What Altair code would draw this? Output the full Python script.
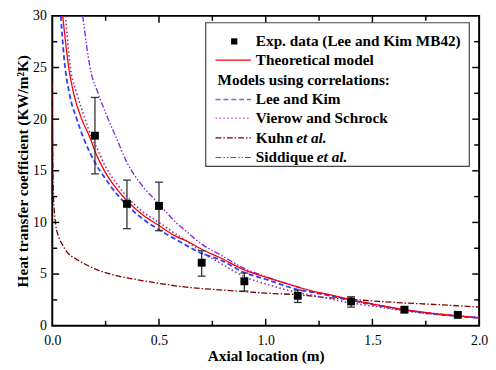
import altair as alt
import pandas as pd

# ---------------- data ----------------
exp_x = [0.2, 0.35, 0.5, 0.7, 0.9, 1.15, 1.4, 1.65, 1.9]
exp_y = [18.4, 11.8, 11.6, 6.1, 4.3, 2.9, 2.35, 1.55, 1.05]
exp_lo = [14.7, 9.4, 9.2, 4.8, 3.35, 2.25, 1.8, 1.3, 0.85]
exp_hi = [22.1, 14.1, 13.9, 7.25, 5.1, 3.45, 2.8, 1.8, 1.25]

theo_x = [0.049, 0.077, 0.1, 0.138, 0.177, 0.2, 0.25, 0.3, 0.35, 0.42, 0.5, 0.584, 0.63, 0.7, 0.784, 0.9, 1.0, 1.15, 1.23, 1.3, 1.4, 1.5, 1.65, 1.8, 1.9, 2.0]
theo_y = [30, 25, 22.5, 20, 18.2, 16.9, 14.8, 13.3, 12.1, 10.8, 9.7, 8.6, 8.2, 7.4, 6.6, 5.4, 4.7, 3.75, 3.3, 3.0, 2.5, 2.1, 1.55, 1.15, 0.95, 0.75]

lee_x = [0.04, 0.055, 0.08, 0.115, 0.146, 0.2, 0.25, 0.3, 0.35, 0.42, 0.5, 0.584, 0.7, 0.784, 0.9, 1.0, 1.15, 1.23, 1.3, 1.4, 1.5, 1.65, 1.8, 1.9, 2.0]
lee_y = [30, 26, 22.5, 20, 18.2, 15.8, 14.2, 12.8, 11.7, 10.4, 9.3, 8.3, 7.0, 6.4, 5.15, 4.5, 3.5, 3.2, 2.9, 2.45, 2.05, 1.5, 1.1, 0.92, 0.75]

vs_x = [0.062, 0.085, 0.115, 0.154, 0.185, 0.2, 0.25, 0.3, 0.35, 0.42, 0.5, 0.584, 0.63, 0.7, 0.784, 0.9, 1.0, 1.15, 1.23, 1.3, 1.4, 1.5, 1.65, 1.8, 1.9, 2.0]
vs_y = [30, 25, 22.5, 20, 18.2, 17.6, 15.4, 13.8, 12.5, 11.1, 10.0, 8.8, 8.2, 7.1, 6.1, 4.75, 4.05, 3.2, 2.9, 2.6, 2.2, 1.9, 1.45, 1.1, 0.95, 0.8]

kuhn_x = [0.0, 0.002, 0.005, 0.01, 0.016, 0.03, 0.046, 0.07, 0.108, 0.15, 0.2, 0.3, 0.4, 0.5, 0.6, 0.7, 0.8, 0.9, 1.0, 1.15, 1.3, 1.4, 1.5, 1.65, 1.8, 2.0]
kuhn_y = [23.5, 17, 13, 11, 9.8, 8.6, 7.9, 7.1, 6.5, 6.0, 5.5, 4.85, 4.45, 4.1, 3.8, 3.6, 3.45, 3.3, 3.15, 3.0, 2.7, 2.55, 2.4, 2.2, 2.05, 1.8]

sid_x = [0.143, 0.177, 0.215, 0.262, 0.3, 0.35, 0.42, 0.5, 0.584, 0.63, 0.7, 0.784, 0.9, 1.0, 1.15, 1.23, 1.3, 1.4, 1.5, 1.65, 1.8, 1.9, 2.0]
sid_y = [30, 25, 22.5, 20, 18.2, 15.8, 13.6, 11.8, 9.9, 9.1, 7.9, 6.9, 5.55, 4.75, 3.75, 3.25, 2.95, 2.5, 2.1, 1.55, 1.15, 0.95, 0.78]

x_major = [0.5, 1.0, 1.5]
x_minor = [0.25, 0.75, 1.25, 1.75]
y_major = [5, 10, 15, 20, 25]
y_minor = [2.5, 7.5, 12.5, 17.5, 22.5, 27.5]

FONT = "Liberation Serif"
W, H = 434, 315

xs = alt.Scale(domain=[0, 2], nice=False, zero=False)
ys = alt.Scale(domain=[0, 30], nice=False)

exp_df = pd.DataFrame({"x": exp_x, "y": exp_y, "lo": exp_lo, "hi": exp_hi})

def curve(xv, yv, color, dash, width=1.3):
    df = pd.DataFrame({"x": xv, "y": yv})
    kw = dict(color=color, strokeWidth=width, clip=True, interpolate="monotone")
    if dash:
        kw["strokeDash"] = dash
    return alt.Chart(df).mark_line(**kw).encode(
        x=alt.X("x:Q", scale=xs), y=alt.Y("y:Q", scale=ys)
    )

base_axes = alt.Chart(exp_df).mark_point(opacity=0).encode(
    x=alt.X("x:Q", scale=xs, title="Axial location (m)",
            axis=alt.Axis(values=[0, 0.5, 1.0, 1.5, 2.0], format=".1f", ticks=False, tickSize=0,
                          domain=False, grid=False, labelFlush=False, labelFont=FONT, labelFontSize=14,
                          labelColor="black", labelPadding=8, titleFont=FONT, titleFontSize=15.5,
                          titleFontWeight="bold", titleColor="black", titlePadding=1)),
    y=alt.Y("y:Q", scale=ys, title="Heat transfer coefficient (KW/m²K)",
            axis=alt.Axis(values=[0, 5, 10, 15, 20, 25, 30], ticks=False, tickSize=0,
                          domain=False, grid=False, labelFlush=False, labelFont=FONT, labelFontSize=14,
                          labelColor="black", labelPadding=6, titleFont=FONT, titleFontSize=15.5,
                          titleFontWeight="bold", titleColor="black", titlePadding=2)),
)

red = curve(theo_x, theo_y, "#ff0000", None, 1.3)
lee = curve(lee_x, lee_y, "#2a3cff", [5, 3], 1.8)
vs = curve(vs_x, vs_y, "#8c2a99", [1.5, 2.5], 1.6)
kuhn = curve(kuhn_x, kuhn_y, "#7a0000", [6, 2, 1.5, 2], 1.3)
sid = curve(sid_x, sid_y, "#8a2be2", [6, 2, 1.5, 2, 1.5, 2], 1.4)

ebar = alt.Chart(exp_df).mark_rule(color="#333333", strokeWidth=1.3).encode(
    x=alt.X("x:Q", scale=xs), y=alt.Y("lo:Q", scale=ys), y2="hi:Q")
cap_lo = alt.Chart(exp_df).mark_rule(color="#333333", strokeWidth=1.3, xOffset=-4, x2Offset=4).encode(
    x=alt.X("x:Q", scale=xs), x2="x:Q", y=alt.Y("lo:Q", scale=ys))
cap_hi = alt.Chart(exp_df).mark_rule(color="#333333", strokeWidth=1.3, xOffset=-4, x2Offset=4).encode(
    x=alt.X("x:Q", scale=xs), x2="x:Q", y=alt.Y("hi:Q", scale=ys))
pts = alt.Chart(exp_df).mark_square(color="black", size=64, opacity=1).encode(
    x=alt.X("x:Q", scale=xs), y=alt.Y("y:Q", scale=ys))

# ticks (inward, on all four sides)
def xticks(vals, length):
    df = pd.DataFrame({"v": vals})
    b = alt.Chart(df).mark_rule(color="black", strokeWidth=1.5).encode(
        x=alt.X("v:Q", scale=xs), y=alt.value(H), y2=alt.value(H - length))
    t = alt.Chart(df).mark_rule(color="black", strokeWidth=1.5).encode(
        x=alt.X("v:Q", scale=xs), y=alt.value(0), y2=alt.value(length))
    return b + t

def yticks(vals, length):
    df = pd.DataFrame({"v": vals})
    l = alt.Chart(df).mark_rule(color="black", strokeWidth=1.5).encode(
        y=alt.Y("v:Q", scale=ys), x=alt.value(0), x2=alt.value(length))
    r = alt.Chart(df).mark_rule(color="black", strokeWidth=1.5).encode(
        y=alt.Y("v:Q", scale=ys), x=alt.value(W), x2=alt.value(W - length))
    return l + r

ticks = xticks(x_major, 7) + xticks(x_minor, 5) + yticks(y_major, 7) + yticks(y_minor, 5)

# ---------------- manual legend ----------------
one = alt.Data(values=[{"a": 1}])
box = alt.Chart(one).mark_rect(fill="white", stroke="#444444", strokeWidth=1.2).encode(
    x=alt.value(156), x2=alt.value(424), y=alt.value(7), y2=alt.value(153))

rows = [26, 45, 65, 85, 104, 124, 144]
LX1, LX2, TX = 166, 202, 207

def leg_line(row, color, dash, width):
    kw = dict(color=color, strokeWidth=width)
    if dash:
        kw["strokeDash"] = dash
    return alt.Chart(one).mark_rule(**kw).encode(
        x=alt.value(LX1), x2=alt.value(LX2), y=alt.value(row))

def leg_text(txt, x, row, italic=False):
    kw = dict(text=txt, font=FONT, fontSize=15.5, fontWeight="bold", align="left",
              baseline="middle", color="black")
    if italic:
        kw["fontStyle"] = "italic"
    return alt.Chart(one).mark_text(**kw).encode(x=alt.value(x), y=alt.value(row))

leg_sq = alt.Chart(one).mark_square(color="black", size=40, opacity=1).encode(
    x=alt.value(185), y=alt.value(rows[0]))

legend = (box + leg_sq
          + leg_line(rows[1], "#ff0000", None, 1.3)
          + leg_line(rows[3], "#6a6aff", [5, 3], 1.5)
          + leg_line(rows[4], "#cc66cc", [1.5, 2.5], 1.5)
          + leg_line(rows[5], "#7a0000", [6, 2, 1.5, 2], 1.2)
          + leg_line(rows[6], "#8a2be2", [6, 2, 1.5, 2, 1.5, 2], 1.2)
          + leg_text("Exp. data (Lee and Kim MB42)", TX, rows[0])
          + leg_text("Theoretical model", TX, rows[1])
          + leg_text("Models using correlations:", 168, rows[2])
          + leg_text("Lee and Kim", TX, rows[3])
          + leg_text("Vierow and Schrock", TX, rows[4])
          + leg_text("Kuhn", TX, rows[5])
          + leg_text("et al.", 248, rows[5], italic=True)
          + leg_text("Siddique", TX, rows[6])
          + leg_text("et al.", 269, rows[6], italic=True))

chart = alt.layer(
    base_axes, kuhn, sid, vs, lee, red, ebar, cap_lo, cap_hi, pts, ticks, legend
).properties(
    width=W, height=H,
    autosize=alt.AutoSizeParams(type="none"),
    padding={"left": 45, "top": 5, "right": 9, "bottom": 40},
    background="white",
).configure_view(stroke="black", strokeWidth=2)

chart.save("out.html", embed_options={"renderer": "svg", "actions": False})
